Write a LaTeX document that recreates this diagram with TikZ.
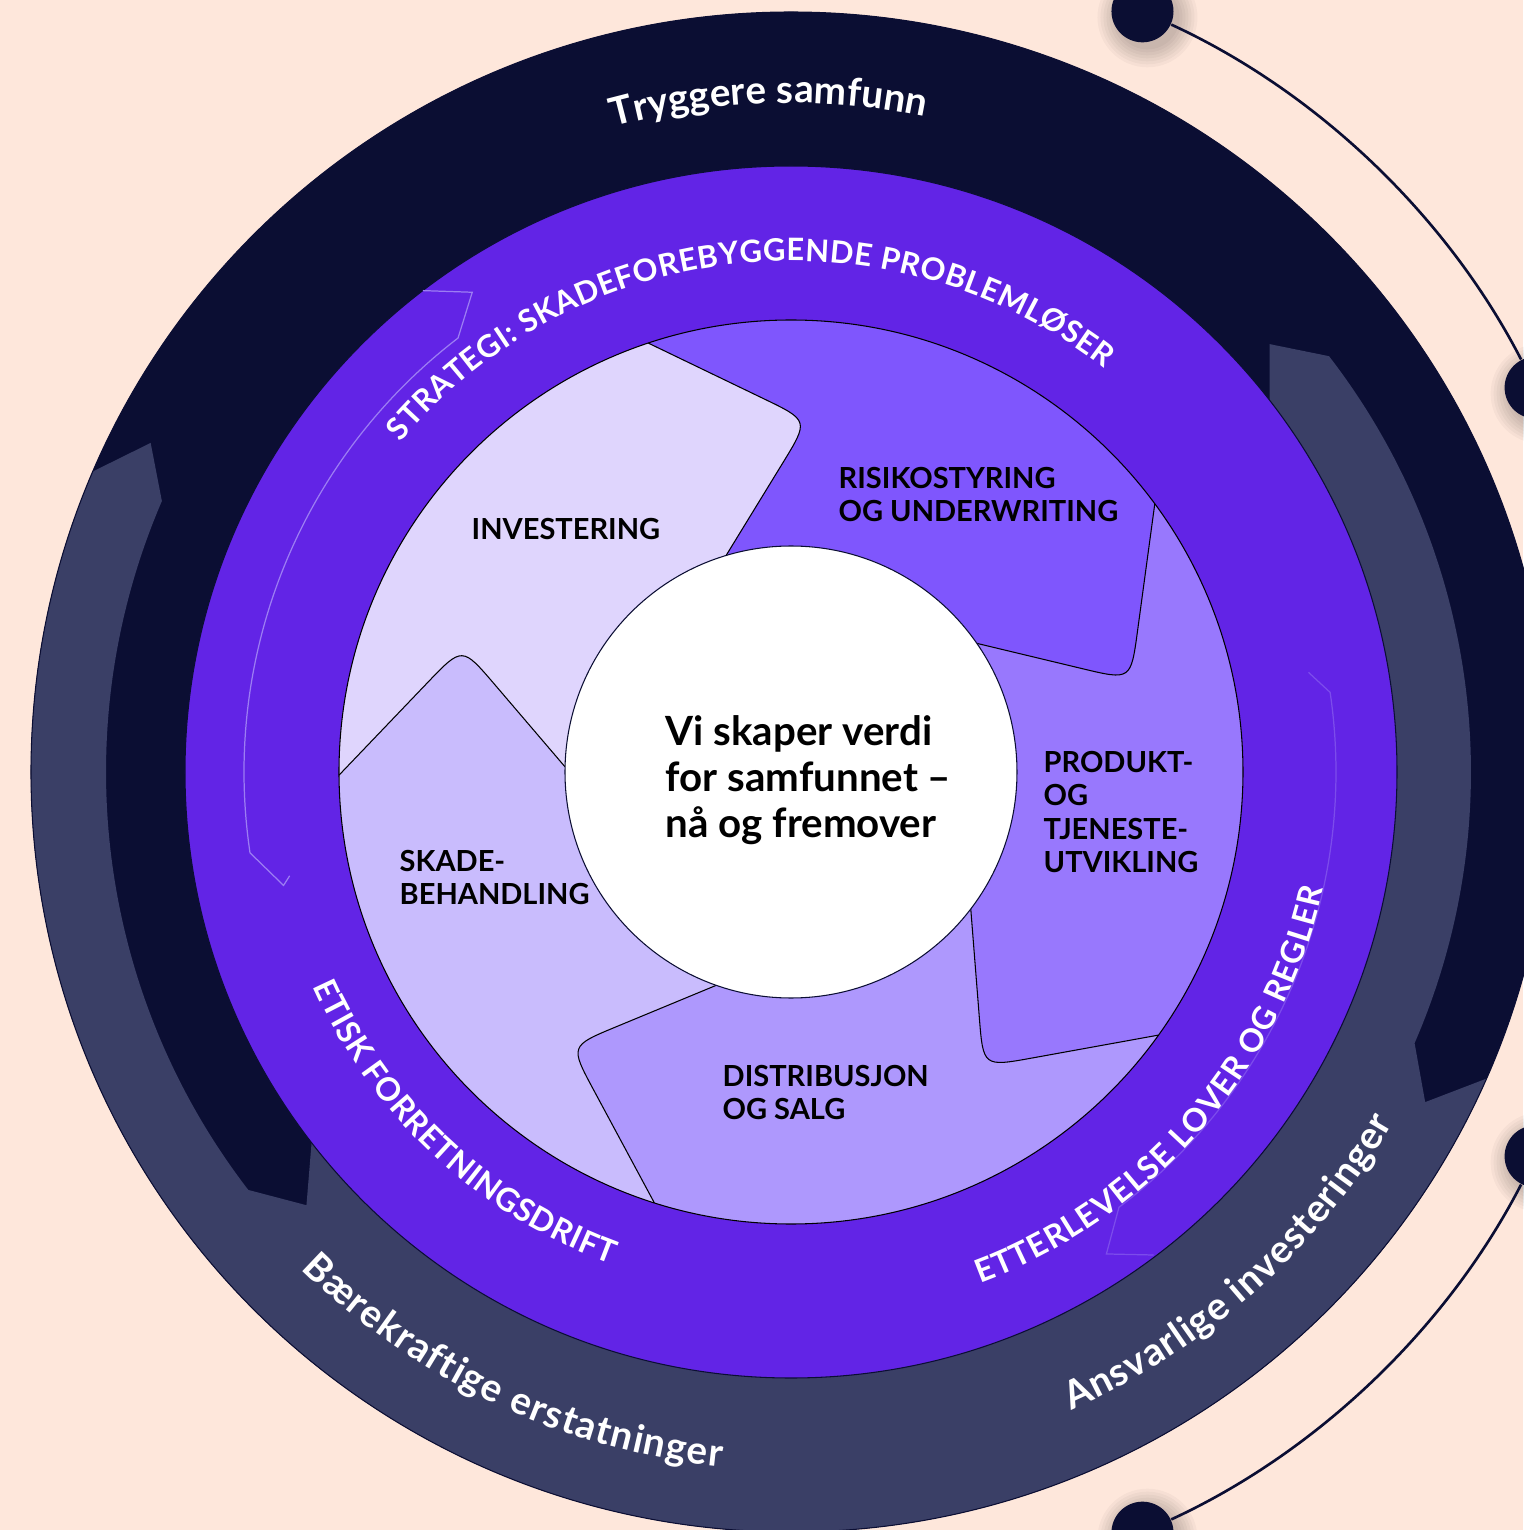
\documentclass[tikz,border=0pt]{standalone}
\usepackage{fontspec}
\setmainfont{Lato}
\usetikzlibrary{calc,decorations.text}

\definecolor{paper}{HTML}{FEE7DB}
\definecolor{navy}{HTML}{0B0E33}
\definecolor{slate}{HTML}{3A3F66}
\definecolor{violet}{HTML}{6224E6}
\definecolor{segInv}{HTML}{DFD5FD}
\definecolor{segRisk}{HTML}{7F56FD}
\definecolor{segProd}{HTML}{9878FD}
\definecolor{segDist}{HTML}{AE98FD}
\definecolor{segClaim}{HTML}{C9BCFD}
\definecolor{faintline}{HTML}{9C7DF3}

\newcommand\outerlabelfont{\fontsize{11}{13}\selectfont\bfseries}
\newcommand\ringlabelfont{\fontsize{9.1}{11}\selectfont\bfseries}
\newcommand\stratlabelfont{\fontsize{8.8}{11}\selectfont\bfseries}

\tikzset{
  seamline/.style={draw=black, line width=0.3pt},
  seglabel/.style={anchor=north west, inner sep=0pt, align=left,
    font=\fontsize{8.25}{9.4}\selectfont\bfseries, text=black},
  hubtext/.style={anchor=north west, inner sep=0pt, align=left,
    font=\fontsize{11.45}{13.1}\selectfont\bfseries, text=black},
  dot/.style={circle, fill=navy, minimum size=0.62cm, inner sep=0pt},
  orbit/.style={draw=navy, line width=0.75pt},
  arctext/.style={decorate, decoration={text along path, text color=white,
    text align={fit to path}, text={#1}}}
}

\begin{document}
\begin{tikzpicture}[x=0.01cm,y=0.01cm]
\useasboundingbox (-791,-758) rectangle (732,772);
\fill[paper] (-791,-758) rectangle (732,772);

% orbit lines with the four dots
\foreach \a in {65.2,27.3,-27.3,-65.2}
  \foreach \s in {1,...,7}
    \fill[black, opacity=0.03] ($(\a:838)+(5,-6)$) circle[radius={29+3*\s}];
\node[dot] (d1) at (65.2:838) {};
\node[dot] (d2) at (27.3:838) {};
\node[dot] (d3) at (-27.3:838) {};
\node[dot] (d4) at (-65.2:838) {};
\draw[orbit] (d1) to[bend left=19, looseness=0.85] (d2);
\draw[orbit] (d3) to[bend left=19, looseness=0.85] (d4);

% outer ring: navy disc with the slate arrow band on top
\fill[navy] (0,0) circle[radius=760];
\fill[slate] (152.8:720) -- (156.7:760)
  arc[start angle=156.7, end angle=336.2, radius=760]
  -- (332.5:715) -- (336.5:680)
  arc[start angle=336.5, end angle=397.7, radius=680]
  -- (401.8:642) -- (397.6:604)
  arc[start angle=397.6, end angle=217.5, radius=604]
  -- (221.8:650) -- (217.6:685)
  arc[start angle=217.6, end angle=156.7, radius=685] -- cycle;
\draw[navy, line width=0.3pt] (0,0) circle[radius=760];

% strategy ring
\fill[violet, draw=navy, line width=0.3pt] (0,0) circle[radius=606];
\draw[faintline, line width=0.35pt] (127.4:606) -- (123.6:576) -- (127.5:547)
  arc[start angle=127.5, end angle=188.5, radius=547] -- (192.6:520) -- (191.7:512);
\draw[faintline, opacity=0.45, line width=0.35pt] (10.9:527) -- (8.4:545)
  arc[start angle=8.4, end angle=-53, radius=545] -- (-56.8:576) -- (-53.1:604);

% value chain segments
\foreach \k/\th in {0/180.4,1/108.4,2/36.4,3/-35.6,4/-107.6} {
  \coordinate (o\k) at (\th:452);
  \coordinate (t\k) at ({\th-21.3}:352);
  \coordinate (i\k) at ({\th-1.7}:226);
}
\foreach \k in {0,...,4} {
  \coordinate (a\k) at ($(t\k)!0.5cm!(o\k)$);
  \coordinate (b\k) at ($(t\k)!0.5cm!(i\k)$);
}
\fill[segInv] (o0) arc[start angle=180.4, end angle=108.4, radius=452]
  -- (a1) .. controls (t1) .. (b1) -- (i1)
  arc[start angle=106.7, end angle=178.7, radius=226]
  -- (b0) .. controls (t0) .. (a0) -- cycle;
\fill[segRisk] (o1) arc[start angle=108.4, end angle=36.4, radius=452]
  -- (a2) .. controls (t2) .. (b2) -- (i2)
  arc[start angle=34.7, end angle=106.7, radius=226]
  -- (b1) .. controls (t1) .. (a1) -- cycle;
\fill[segProd] (o2) arc[start angle=36.4, end angle=-35.6, radius=452]
  -- (a3) .. controls (t3) .. (b3) -- (i3)
  arc[start angle=-37.3, end angle=34.7, radius=226]
  -- (b2) .. controls (t2) .. (a2) -- cycle;
\fill[segDist] (o3) arc[start angle=-35.6, end angle=-107.6, radius=452]
  -- (a4) .. controls (t4) .. (b4) -- (i4)
  arc[start angle=-109.3, end angle=-37.3, radius=226]
  -- (b3) .. controls (t3) .. (a3) -- cycle;
\fill[segClaim] (o4) arc[start angle=-107.6, end angle=-179.6, radius=452]
  -- (a0) .. controls (t0) .. (b0) -- (i0)
  arc[start angle=-181.3, end angle=-109.3, radius=226]
  -- (b4) .. controls (t4) .. (a4) -- cycle;
\foreach \k in {0,...,4}
  \draw[seamline] (o\k) -- (a\k) .. controls (t\k) .. (b\k) -- (i\k);
\draw[seamline] (0,0) circle[radius=452];

% hub
\fill[white, draw=navy, line width=0.3pt] (0,0) circle[radius=226];

% segment labels
\node[seglabel] (inv) at (-320,254) {INVESTERING};
\node[seglabel] (risk) at (47,305) {RISIKOSTYRING\\OG UNDERWRITING};
\node[seglabel] (prod) at (252,21) {PRODUKT-\\OG\\TJENESTE-\\UTVIKLING};
\node[seglabel] (claim) at (-392,-78) {SKADE-\\BEHANDLING};
\node[seglabel] (dist) at (-69,-293) {DISTRIBUSJON\\OG SALG};
\node[hubtext] (hub) at (-126,57) {Vi skaper verdi\\for samfunnet –\\nå og fremover};

% curved ring texts
\path[arctext={|\outerlabelfont|Tryggere samfunn}]
  (105.4:669) arc[start angle=105.4, end angle=78.4, radius=669];
\path[arctext={|\stratlabelfont|STRATEGI: SKADEFOREBYGGENDE PROBLEMLØSER}]
  (139.8:511) arc[start angle=139.8, end angle=52.2, radius=511];
\path[arctext={|\ringlabelfont|ETISK FORRETNINGSDRIFT}]
  (204.2:524) arc[start angle=204.2, end angle=250, radius=524];
\path[arctext={|\ringlabelfont|ETTERLEVELSE LOVER OG REGLER}]
  (-69.7:545) arc[start angle=-69.7, end angle=-12.4, radius=545];
\path[arctext={|\outerlabelfont|Bærekraftige erstatninger}]
  (225.4:698) arc[start angle=225.4, end angle=264.3, radius=698];
\path[arctext={|\outerlabelfont|Ansvarlige investeringer}]
  (-66.3:697) arc[start angle=-66.3, end angle=-30.2, radius=697];
\end{tikzpicture}
\end{document}
